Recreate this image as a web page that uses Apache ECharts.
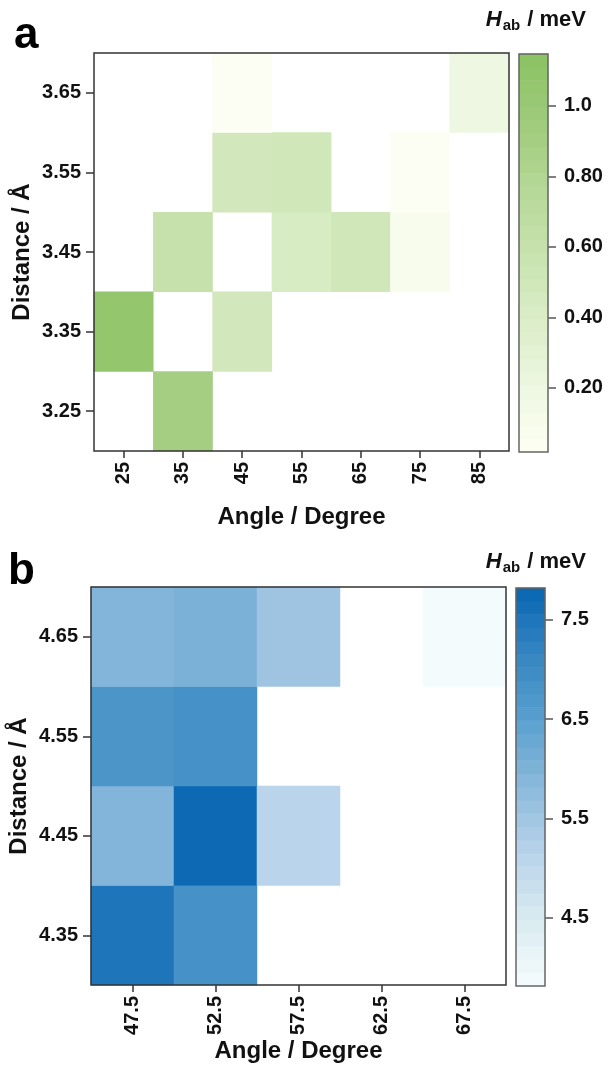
<!DOCTYPE html>
<html>
<head>
<meta charset="utf-8">
<script src="https://cdn.jsdelivr.net/npm/echarts@6/dist/echarts.min.js"></script>
<style>
  html, body { margin: 0; padding: 0; background: #fff; }
  #chart { width: 608px; height: 1068px; }
</style>
</head>
<body>
<div id="chart"></div>
<script>
// Panel a: coupling vs. angle and distance (green scale)
const angleA = ['25', '35', '45', '55', '65', '75', '85'];
const distA = ['3.25', '3.35', '3.45', '3.55', '3.65'];
// [angle, distance, H_ab in meV]
const hA = [
  ['35', '3.25', 0.90],
  ['25', '3.35', 1.07],
  ['45', '3.35', 0.48],
  ['35', '3.45', 0.60],
  ['55', '3.45', 0.42],
  ['65', '3.45', 0.50],
  ['75', '3.45', 0.09],
  ['45', '3.55', 0.48],
  ['55', '3.55', 0.50],
  ['75', '3.55', 0.03],
  ['45', '3.65', 0.03],
  ['85', '3.65', 0.20]
];
const rangeA = [0.0175, 1.1475];
const tickValuesA = [0.2, 0.4, 0.6, 0.8, 1.0];
const tickLabelsA = ['0.20', '0.40', '0.60', '0.80', '1.0'];
const coloursA = ['#fefff4', '#eaf5dc', '#d3e9bd', '#bcdca0', '#a3cd80', '#8bc263'];

// Panel b: coupling vs. angle and distance (blue scale)
const angleB = ['47.5', '52.5', '57.5', '62.5', '67.5'];
const distB = ['4.35', '4.45', '4.55', '4.65'];
const hB = [
  ['47.5', '4.35', 7.50],
  ['52.5', '4.35', 6.85],
  ['47.5', '4.45', 5.95],
  ['52.5', '4.45', 7.75],
  ['57.5', '4.45', 5.10],
  ['47.5', '4.55', 6.75],
  ['52.5', '4.55', 6.85],
  ['47.5', '4.65', 5.95],
  ['52.5', '4.65', 6.05],
  ['57.5', '4.65', 5.55],
  ['67.5', '4.65', 3.85]
];
const rangeB = [3.815, 7.82];
const tickValuesB = [4.5, 5.5, 6.5, 7.5];
const tickLabelsB = ['4.5', '5.5', '6.5', '7.5'];
const coloursB = ['#f6fcfe', '#d9ebf1', '#b8d3ea', '#8cbadb', '#5aa0cf', '#3585c1', '#0866b2'];

const BAND_COUNT = 30;

const FONT = "'Liberation Sans', Arial, Helvetica, sans-serif";
const INK = '#111';
const FRAME = '#333';

// colour key: evenly spaced levels across the scale
function keyLevels(range) {
  const step = (range[1] - range[0]) / BAND_COUNT;
  const out = [];
  for (let i = 0; i < BAND_COUNT; i++) out.push(range[0] + step * (i + 0.5));
  return out;
}
const levelsA = keyLevels(rangeA);
const levelsB = keyLevels(rangeB);

function cells(data, xs, ys) {
  return data.map(d => [xs.indexOf(d[0]), ys.indexOf(d[1]), d[2]]);
}

const tickLabelStyle = { color: INK, fontFamily: FONT, fontWeight: 'bold', fontSize: 20 };
const axisNameStyle = { color: INK, fontFamily: FONT, fontWeight: 'bold', fontSize: 24 };
const tickStyle = { color: FRAME, width: 1.5 };

function catX(grid, cats) {
  return {
    type: 'category', gridIndex: grid, data: cats, position: 'bottom',
    axisLine: { show: false },
    axisTick: { show: true, alignWithLabel: true, length: 7, lineStyle: tickStyle },
    axisLabel: Object.assign({ rotate: 90, margin: 11 }, tickLabelStyle),
    splitLine: { show: false },
    name: 'Angle / Degree', nameLocation: 'middle', nameGap: 54,
    nameMoveOverlap: false,
    nameTextStyle: axisNameStyle
  };
}
function catY(grid, cats) {
  return {
    type: 'category', gridIndex: grid, data: cats,
    axisLine: { show: false },
    axisTick: { show: true, alignWithLabel: true, length: 8, lineStyle: tickStyle },
    axisLabel: Object.assign({ margin: 13 }, tickLabelStyle),
    splitLine: { show: false },
    name: 'Distance / \u00C5', nameLocation: 'middle', nameGap: 60,
    nameMoveOverlap: false,
    nameTextStyle: axisNameStyle
  };
}
function hiddenCat(grid, cats) {
  return { type: 'category', gridIndex: grid, data: cats, show: false, boundaryGap: true };
}
function keyAxis(grid, range, values, labels) {
  return {
    type: 'value', gridIndex: grid, position: 'right', min: range[0], max: range[1],
    axisLine: { show: false },
    splitLine: { show: false },
    axisTick: { show: true, length: 8, lineStyle: { color: '#555', width: 1.5 }, customValues: values },
    axisLabel: Object.assign({
      margin: 16, customValues: values,
      formatter: v => labels[values.findIndex(t => Math.abs(t - v) < 1e-9)]
    }, tickLabelStyle)
  };
}

const plotGrid = { show: true, z: 10, borderColor: FRAME, borderWidth: 1.5, backgroundColor: 'transparent', outerBoundsMode: 'none', containLabel: false };
const keyGrid = { show: true, z: 10, borderColor: '#666', borderWidth: 1.5, backgroundColor: 'transparent', outerBoundsMode: 'none', containLabel: false };

const keyTitle = {
  text: '{h|H}{s|ab}{t| / meV}',
  textStyle: {
    rich: {
      h: { fontFamily: FONT, fontWeight: 'bold', fontStyle: 'italic', fontSize: 22, color: INK, lineHeight: 24, verticalAlign: 'top' },
      s: { fontFamily: FONT, fontWeight: 'bold', fontSize: 15, color: INK, lineHeight: 15, padding: [17, 1, 0, 1], verticalAlign: 'bottom' },
      t: { fontFamily: FONT, fontWeight: 'bold', fontSize: 22, color: INK, lineHeight: 24, verticalAlign: 'top' }
    }
  },
  padding: 0
};

const option = {
  backgroundColor: '#fff',
  animation: false,
  title: [
    { text: 'a', left: 14, top: 14, padding: 0, textStyle: { fontFamily: FONT, fontWeight: 'bold', fontSize: 44, color: '#000' } },
    { text: 'b', left: 8, top: 550, padding: 0, textStyle: { fontFamily: FONT, fontWeight: 'bold', fontSize: 44, color: '#000' } },
    Object.assign({ right: 22, top: 9 }, keyTitle),
    Object.assign({ right: 22, top: 551 }, keyTitle)
  ],
  grid: [
    Object.assign({ left: 94, top: 53, width: 415, height: 398 }, plotGrid),
    Object.assign({ left: 519, top: 54, width: 29, height: 398 }, keyGrid),
    Object.assign({ left: 91, top: 587, width: 415, height: 398 }, plotGrid),
    Object.assign({ left: 516, top: 588, width: 29, height: 398 }, keyGrid)
  ],
  xAxis: [
    catX(0, angleA),
    hiddenCat(1, ['']),
    catX(2, angleB),
    hiddenCat(3, [''])
  ],
  yAxis: [
    catY(0, distA),
    hiddenCat(1, levelsA.map((_, i) => String(i))),
    keyAxis(1, rangeA, tickValuesA, tickLabelsA),
    catY(2, distB),
    hiddenCat(3, levelsB.map((_, i) => String(i))),
    keyAxis(3, rangeB, tickValuesB, tickLabelsB)
  ],
  visualMap: [
    { type: 'continuous', show: false, seriesIndex: [0, 1], min: rangeA[0], max: rangeA[1], inRange: { color: coloursA } },
    { type: 'continuous', show: false, seriesIndex: [2, 3], min: rangeB[0], max: rangeB[1], inRange: { color: coloursB } }
  ],
  series: [
    { type: 'heatmap', xAxisIndex: 0, yAxisIndex: 0, z: 1, data: cells(hA, angleA, distA) },
    { type: 'heatmap', xAxisIndex: 1, yAxisIndex: 1, z: 1, data: levelsA.map((v, i) => [0, i, v]) },
    { type: 'heatmap', xAxisIndex: 2, yAxisIndex: 3, z: 1, data: cells(hB, angleB, distB) },
    { type: 'heatmap', xAxisIndex: 3, yAxisIndex: 4, z: 1, data: levelsB.map((v, i) => [0, i, v]) }
  ]
};

const chart = echarts.init(document.getElementById('chart'), null, { renderer: 'canvas' });
chart.setOption(option);
</script>
</body>
</html>
